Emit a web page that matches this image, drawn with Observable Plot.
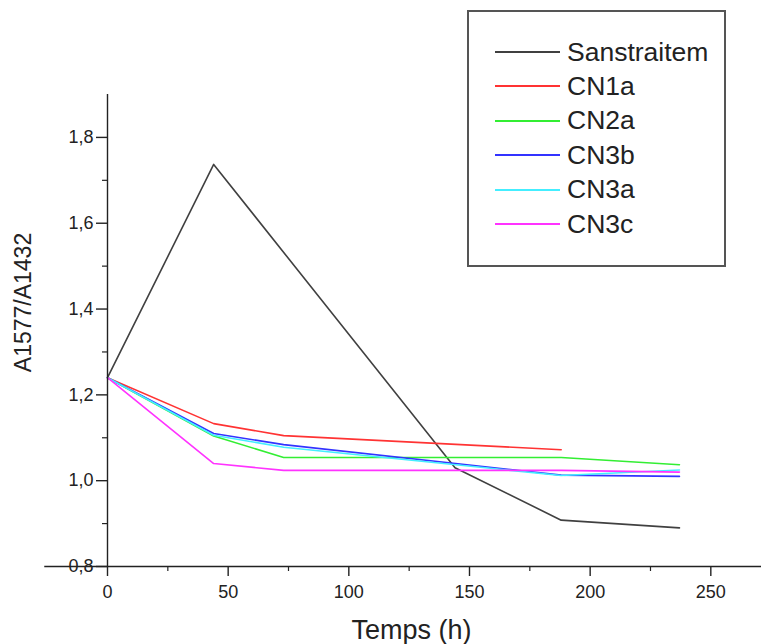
<!DOCTYPE html>
<html>
<head>
<meta charset="utf-8">
<script src="https://cdn.jsdelivr.net/npm/d3@7"></script>
<script src="https://cdn.jsdelivr.net/npm/@observablehq/plot@0.6"></script>
<style>
  html, body { margin: 0; padding: 0; background: #fff; }
  #wrap { position: relative; width: 762px; height: 644px; font-family: "Liberation Sans", Arial, sans-serif; }
  #legend { position: absolute; left: 467px; top: 10px; width: 255px; height: 253px; border: 2px solid #555; background: #fff; box-sizing: content-box; }
  .row { position: absolute; left: 0; height: 34px; display: flex; align-items: center; }
  .row .sw { width: 65px; height: 0; border-top: 2px solid; margin-left: 26px; margin-right: 7px; }
  .row .lb { font-size: 26.5px; color: #222; }
</style>
</head>
<body>
<div id="wrap"><div id="legend"></div></div>
<script>
// ---- data ----
const seriesNames = ["Sanstraitem", "CN1a", "CN2a", "CN3b", "CN3a", "CN3c"];
const seriesColors = ["#404040", "#ff3333", "#33ee33", "#3333ff", "#44eeff", "#ff33ff"];

const tSanstraitem = [0, 44, 144, 188, 237];
const vSanstraitem = [1.24, 1.737, 1.03, 0.908, 0.89];

const tCN1a = [0, 44, 73, 188];
const vCN1a = [1.24, 1.133, 1.105, 1.072];

const tCN = [0, 44, 73, 188, 237];
const vCN2a = [1.24, 1.104, 1.054, 1.054, 1.037];
const vCN3b = [1.24, 1.110, 1.084, 1.013, 1.010];
const vCN3a = [1.24, 1.106, 1.078, 1.012, 1.025];
const vCN3c = [1.24, 1.040, 1.024, 1.024, 1.020];

const xMajorTicks = [0, 50, 100, 150, 200, 250];
const xMinorTicks = [25, 75, 125, 175, 225];
const yMajorTicks = [0.8, 1.0, 1.2, 1.4, 1.6, 1.8];
const yMinorTicks = [0.9, 1.1, 1.3, 1.5, 1.7];
const xTitle = "Temps (h)";
const yTitle = "A1577/A1432";

// ---- build table ----
const seriesTimes = [tSanstraitem, tCN1a, tCN, tCN, tCN, tCN];
const seriesValues = [vSanstraitem, vCN1a, vCN2a, vCN3b, vCN3a, vCN3c];
const rows = [];
seriesNames.forEach((name, i) => {
  seriesTimes[i].forEach((t, j) => rows.push({series: name, t, v: seriesValues[i][j]}));
});

const fmt = d => d3.format(".1f")(d).replace(".", ",");

const chart = Plot.plot({
  width: 762,
  height: 644,
  marginLeft: 107,
  marginRight: 1,
  marginTop: 94,
  marginBottom: 78,
  style: {fontFamily: "Liberation Sans, Arial, sans-serif", color: "#222", background: "#fff"},
  x: {domain: [0, 271]},
  y: {domain: [0.8, 1.9]},
  color: {domain: seriesNames, range: seriesColors},
  marks: [
    Plot.line(rows, {x: "t", y: "v", z: "series", stroke: "series", strokeWidth: 1.6, clip: false}),
    // axis lines
    Plot.ruleX([0], {y1: 0.8, y2: 1.9, stroke: "#222", strokeWidth: 1.4}),
    Plot.ruleY([0.8], {x1: -26, x2: 271, stroke: "#222", strokeWidth: 1.4}),
    // x axis
    Plot.axisX({ticks: xMajorTicks, tickSize: 10, tickPadding: 9, tickFormat: d => String(d), fontSize: 18, stroke: "#222", strokeWidth: 1.4, label: null}),
    Plot.axisX({ticks: xMinorTicks, tickSize: 5, text: null, stroke: "#222", strokeWidth: 1.2, label: null}),
    // y axis
    Plot.axisY({ticks: yMajorTicks, tickSize: 11, tickPadding: 3, tickFormat: fmt, fontSize: 18, stroke: "#222", strokeWidth: 1.4, label: null}),
    Plot.axisY({ticks: yMinorTicks, tickSize: 5, text: null, stroke: "#222", strokeWidth: 1.2, label: null}),
    // axis titles
    Plot.text([xTitle], {frameAnchor: "bottom", textAnchor: "middle", dx: -23, dy: 72, fontSize: 27, fill: "#222"}),
    Plot.text([yTitle], {frameAnchor: "left", textAnchor: "middle", lineAnchor: "middle", rotate: -90, dx: -84, dy: -28, fontSize: 23, fill: "#222"})
  ]
});

document.getElementById("wrap").prepend(chart);

// legend overlay
const legend = document.getElementById("legend");
seriesNames.forEach((name, i) => {
  const r = document.createElement("div");
  r.className = "row";
  r.style.top = (23 + i * 34.4) + "px";
  r.innerHTML = `<span class="sw" style="border-color:${seriesColors[i]}"></span><span class="lb">${name}</span>`;
  legend.appendChild(r);
});
</script>
</body>
</html>
